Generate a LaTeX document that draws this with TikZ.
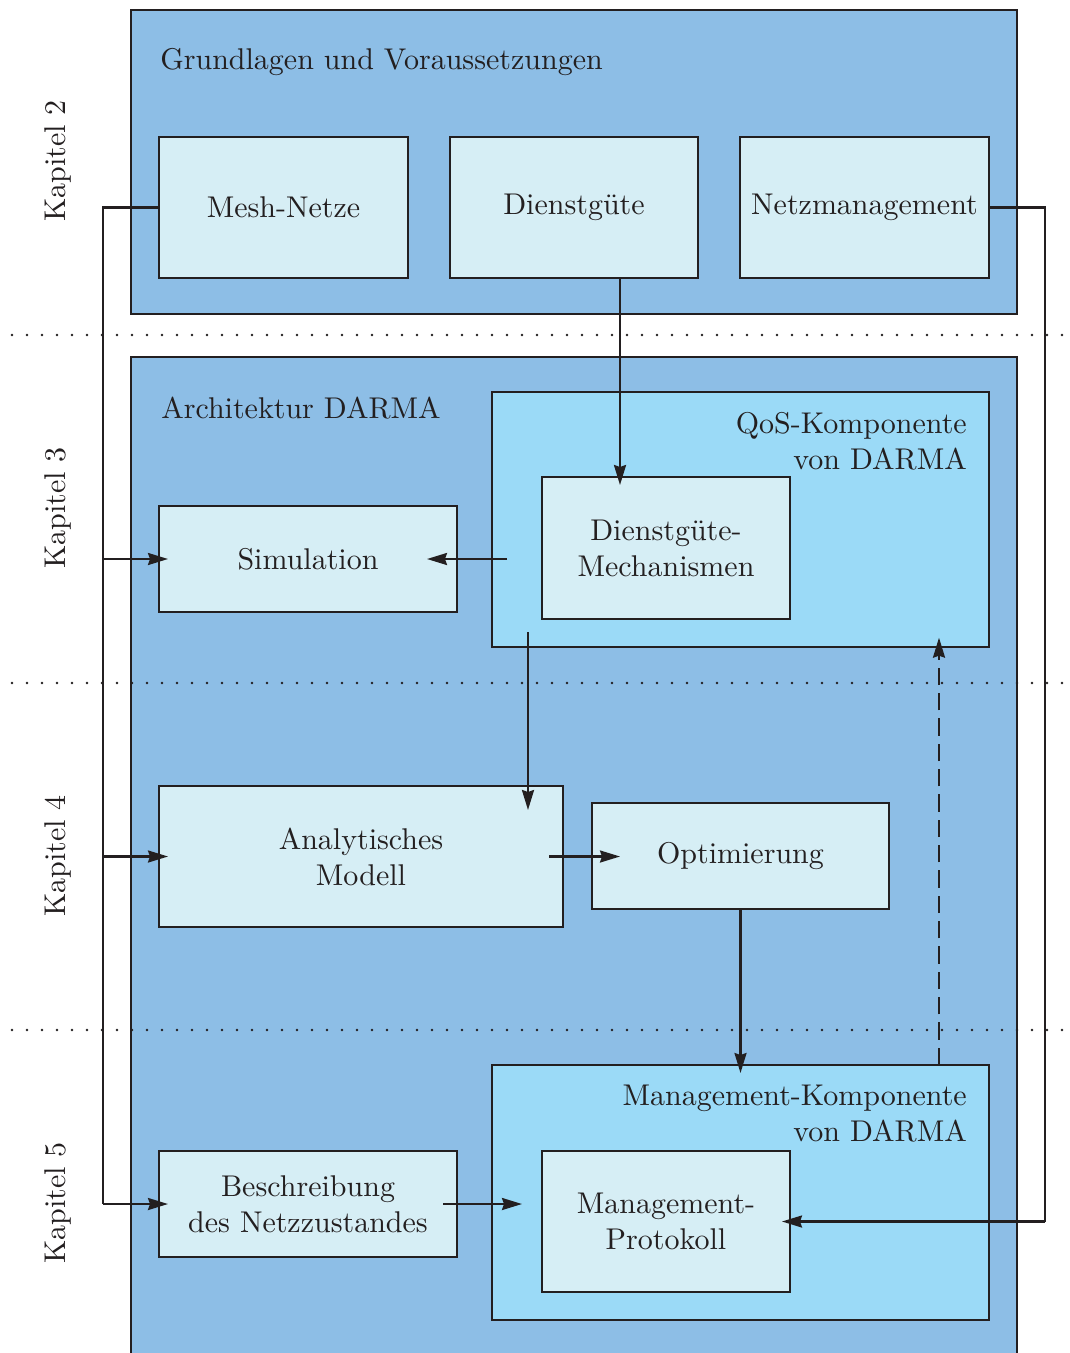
\documentclass[tikz,border=0pt]{standalone}
\usepackage{fontspec}
\setmainfont{lmroman10-regular}[Extension=.otf]
\usetikzlibrary{arrows.meta,calc}
\definecolor{outerblue}{HTML}{8DBEE6}
\definecolor{compblue}{HTML}{9BDAF7}
\definecolor{boxblue}{HTML}{D6EEF5}
\definecolor{ink}{HTML}{231F20}
\begin{document}
\begin{tikzpicture}[x=0.75pt,y=-0.75pt,
  font=\fontsize{22.5}{27}\selectfont, text=ink,
  bigbox/.style={draw=ink, fill=outerblue, line width=2pt, inner sep=0pt, outer sep=0pt},
  compbox/.style={draw=ink, fill=compblue, line width=2pt, inner sep=0pt, outer sep=0pt},
  sz/.style 2 args={minimum width=#1*0.75pt, minimum height=#2*0.75pt},
  ibox/.style={draw=ink, fill=boxblue, line width=2pt, inner sep=0pt, outer sep=0pt, align=center},
  conn/.style={draw=ink, line width=1.7pt},
  arr/.style={conn, -{Stealth[length=15pt,width=9pt,inset=1.5pt]}},
  dots/.style={draw=ink, line width=2.2pt, line cap=round, dash pattern=on 0pt off 11.25pt},
  kap/.style={rotate=90, inner sep=0pt},
  ttl/.style={inner sep=0pt}]
\useasboundingbox (0,0) rectangle (1070,1353);
\clip (0,0) rectangle (1070,1353);
\fill[white] (0,0) rectangle (1070,1353);

% big containers
\node[bigbox, sz={886}{304}] (top) at (574,162) {};
\node[bigbox, sz={886}{1043}] (arch) at (574,878.5) {};

% dotted separators
\draw[dots] (12,335) -- (1065,335);
\draw[dots] (12,683) -- (1065,683);
\draw[dots] (12,1030) -- (1065,1030);

% components
\node[compbox, sz={497}{255}] (qos) at (740.5,519.5) {};
\node[compbox, sz={497}{255}] (mcomp) at (740.5,1192.5) {};

% titles
\node[ttl, anchor=base west] (t1) at (160,69) {Grundlagen und Voraussetzungen};
\node[ttl, anchor=base west] (t2) at (161,418) {Architektur DARMA};
\node[ttl, anchor=north east, align=right] (t3) at (967,412) {QoS-Komponente\\von DARMA};
\node[ttl, anchor=north east, align=right] (t4) at (967,1085) {Management-Komponente\\von DARMA};

% chapter labels
\node[kap] (k2) at (58,161) {Kapitel 2};
\node[kap] (k3) at (58,508) {Kapitel 3};
\node[kap] (k4) at (58,856) {Kapitel 4};
\node[kap] (k5) at (58,1203) {Kapitel 5};

% inner boxes
\node[ibox, sz={249}{141}] (mesh) at (283.5,207.5) {Mesh-Netze};
\node[ibox, sz={248}{141}] (dg) at (574,207.5) {Dienstgüte};
\node[ibox, sz={249}{141}] (netz) at (864.5,207.5) {Netzmanagement};
\node[ibox, sz={248}{142}] (mech) at (666,548) {Dienstgüte-\\Mechanismen};
\node[ibox, sz={298}{106}] (sim) at (308,559) {Simulation};
\node[ibox, sz={404}{141}] (ana) at (361,856.5) {Analytisches\\Modell};
\node[ibox, sz={297}{106}] (opt) at (740.5,856) {Optimierung};
\node[ibox, sz={298}{106}] (besch) at (308,1204) {Beschreibung\\des Netzzustandes};
\node[ibox, sz={248}{141}] (mprot) at (666,1221.5) {Management-\\Protokoll};

% bus coordinates
\coordinate (lbus) at (103,0);
\coordinate (rbus) at (1045,0);
\coordinate (c1) at (620,0);
\coordinate (c2) at (528,0);
\coordinate (c3) at (939,0);

% left bus
\draw[conn] (mesh.west) -| (lbus |- besch.west);
\draw[arr, shorten >=-6.75pt] (lbus |- sim.west) -- (sim.west);
\draw[arr, shorten >=-6.75pt] (lbus |- ana.west) -- (ana.west);
\draw[arr, shorten >=-6.75pt] (lbus |- besch.west) -- (besch.west);

% right bus
\draw[conn] (netz.east) -| (rbus |- mprot.east);
\draw[arr, shorten >=-6pt] (rbus |- mprot.east) -- (mprot.east);

% other connectors
\draw[arr, shorten >=-6pt] (c1 |- dg.south) -- (c1 |- mech.north);
\draw[arr] ($(qos.west |- sim.east)+(15,0)$) -- ($(sim.east)+(-30,0)$);
\draw[arr] ($(c2 |- qos.south)+(0,-15)$) -- ($(c2 |- ana.north)+(0,24)$);
\draw[arr] ($(ana.east)+(-14,0)$) -- ($(ana.east -| opt.west)+(28,0)$);
\draw[arr, shorten >=-6pt] (opt.south) -- (opt.south |- mcomp.north);
\draw[arr, dash pattern=on 13pt off 6pt, shorten >=-7pt] (c3 |- mcomp.north) -- (c3 |- qos.south);
\draw[arr] ($(besch.east)+(-14,0)$) -- ($(besch.east -| mcomp.west)+(30,0)$);
\end{tikzpicture}
\end{document}
